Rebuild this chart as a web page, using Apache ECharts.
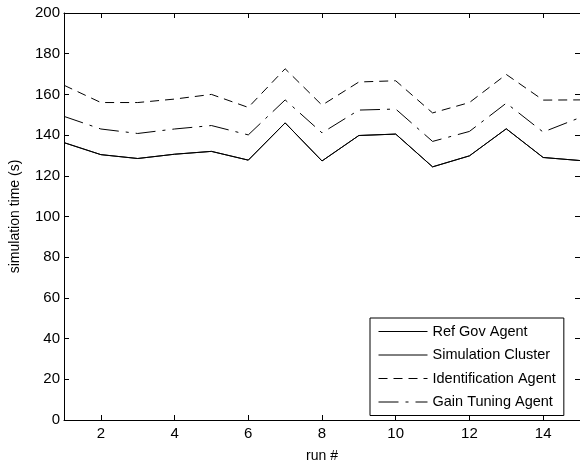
<!DOCTYPE html>
<html>
<head>
<meta charset="utf-8">
<script src="https://cdn.jsdelivr.net/npm/echarts@6/dist/echarts.min.js"></script>
<style>html,body{margin:0;padding:0;background:#fff}#c{width:580px;height:468px}</style>
</head>
<body>
<div id="c"></div>
<script>
const runs = [1,2,3,4,5,6,7,8,9,10,11,12,13,14,15];
const refGov = [136.3,130.4,128.5,130.6,132.0,127.7,146.0,127.3,139.8,140.5,124.4,129.8,143.1,129.0,127.5];
const simCluster = [136.3,130.4,128.5,130.6,132.0,127.7,146.0,127.3,139.8,140.5,124.4,129.8,143.1,129.0,127.5];
const identAgent = [164.5,156.0,156.0,157.7,160.0,153.6,172.6,154.7,166.1,166.7,150.9,156.0,169.8,157.2,157.3];
const gainAgent = [149.2,143.0,140.8,143.0,144.7,140.1,157.3,141.1,152.3,152.8,136.9,141.8,155.7,141.5,148.6];
const xTicks = [2,4,6,8,10,12,14];
const yTicks = [0,20,40,60,80,100,120,140,160,180,200];

const font = 'Liberation Sans, Arial, Helvetica, sans-serif';
const pair = a => a.map((v,i) => [runs[i], v]);
const mk = (name, data, type) => ({
  name, type: 'line', data: pair(data), symbol: 'none', showSymbol: false,
  xAxisIndex: 0, yAxisIndex: 0,
  lineStyle: { color: '#000', width: 1, type },
  itemStyle: { color: '#000' }, animation: false
});
const chart = echarts.init(document.getElementById('c'), null, { renderer: 'canvas' });
const tick = { show: true, inside: true, length: 5, lineStyle: { color: '#000', width: 1 } };
const line = { show: true, onZero: false, lineStyle: { color: '#000', width: 1 } };
chart.setOption({
  animation: false,
  backgroundColor: '#fff',
  grid: { left: 63, top: 13, width: 520, height: 411, containLabel: false },
  xAxis: [
    {
      type: 'value', min: 1, max: 15, position: 'bottom',
      name: 'run #', nameLocation: 'middle', nameGap: 29,
      nameTextStyle: { fontFamily: font, fontSize: 14, color: '#000' },
      axisLine: line, splitLine: { show: false },
      axisTick: Object.assign({}, tick, { customValues: xTicks }),
      axisLabel: { customValues: xTicks, fontFamily: font, fontSize: 15, color: '#000', margin: 6 }
    },
    {
      type: 'value', min: 1, max: 15, position: 'top',
      axisLine: line, splitLine: { show: false },
      axisTick: Object.assign({}, tick, { customValues: xTicks }),
      axisLabel: { show: false, customValues: xTicks }
    }
  ],
  yAxis: [
    {
      type: 'value', min: 0, max: 200, interval: 20, position: 'left',
      name: 'simulation time (s)', nameLocation: 'middle', nameGap: 42,
      nameTextStyle: { fontFamily: font, fontSize: 14, color: '#000' },
      axisLine: line, splitLine: { show: false }, axisTick: tick,
      axisLabel: { customValues: yTicks, fontFamily: font, fontSize: 15, color: '#000', margin: 4 }
    },
    {
      type: 'value', min: 0, max: 200, interval: 20, position: 'right',
      axisLine: line, splitLine: { show: false }, axisTick: tick,
      axisLabel: { show: false }
    }
  ],
  legend: {
    orient: 'vertical', left: 370, top: 318,
    padding: [6, 8, 6, 8],
    itemWidth: 49, itemHeight: 14, itemGap: 8.5,
    borderColor: '#000', borderWidth: 1, borderRadius: 0, backgroundColor: '#fff',
    itemStyle: { opacity: 0 },
    lineStyle: { width: 1 },
    textStyle: { fontFamily: font, fontSize: 14.5, color: '#000' },
    data: ['Ref Gov Agent','Simulation Cluster','Identification Agent','Gain Tuning Agent']
  },
  series: [
    mk('Ref Gov Agent', refGov, 'solid'),
    mk('Simulation Cluster', simCluster, 'solid'),
    mk('Identification Agent', identAgent, [9, 6]),
    mk('Gain Tuning Agent', gainAgent, [20, 7, 3, 7])
  ]
});
</script>
</body>
</html>
